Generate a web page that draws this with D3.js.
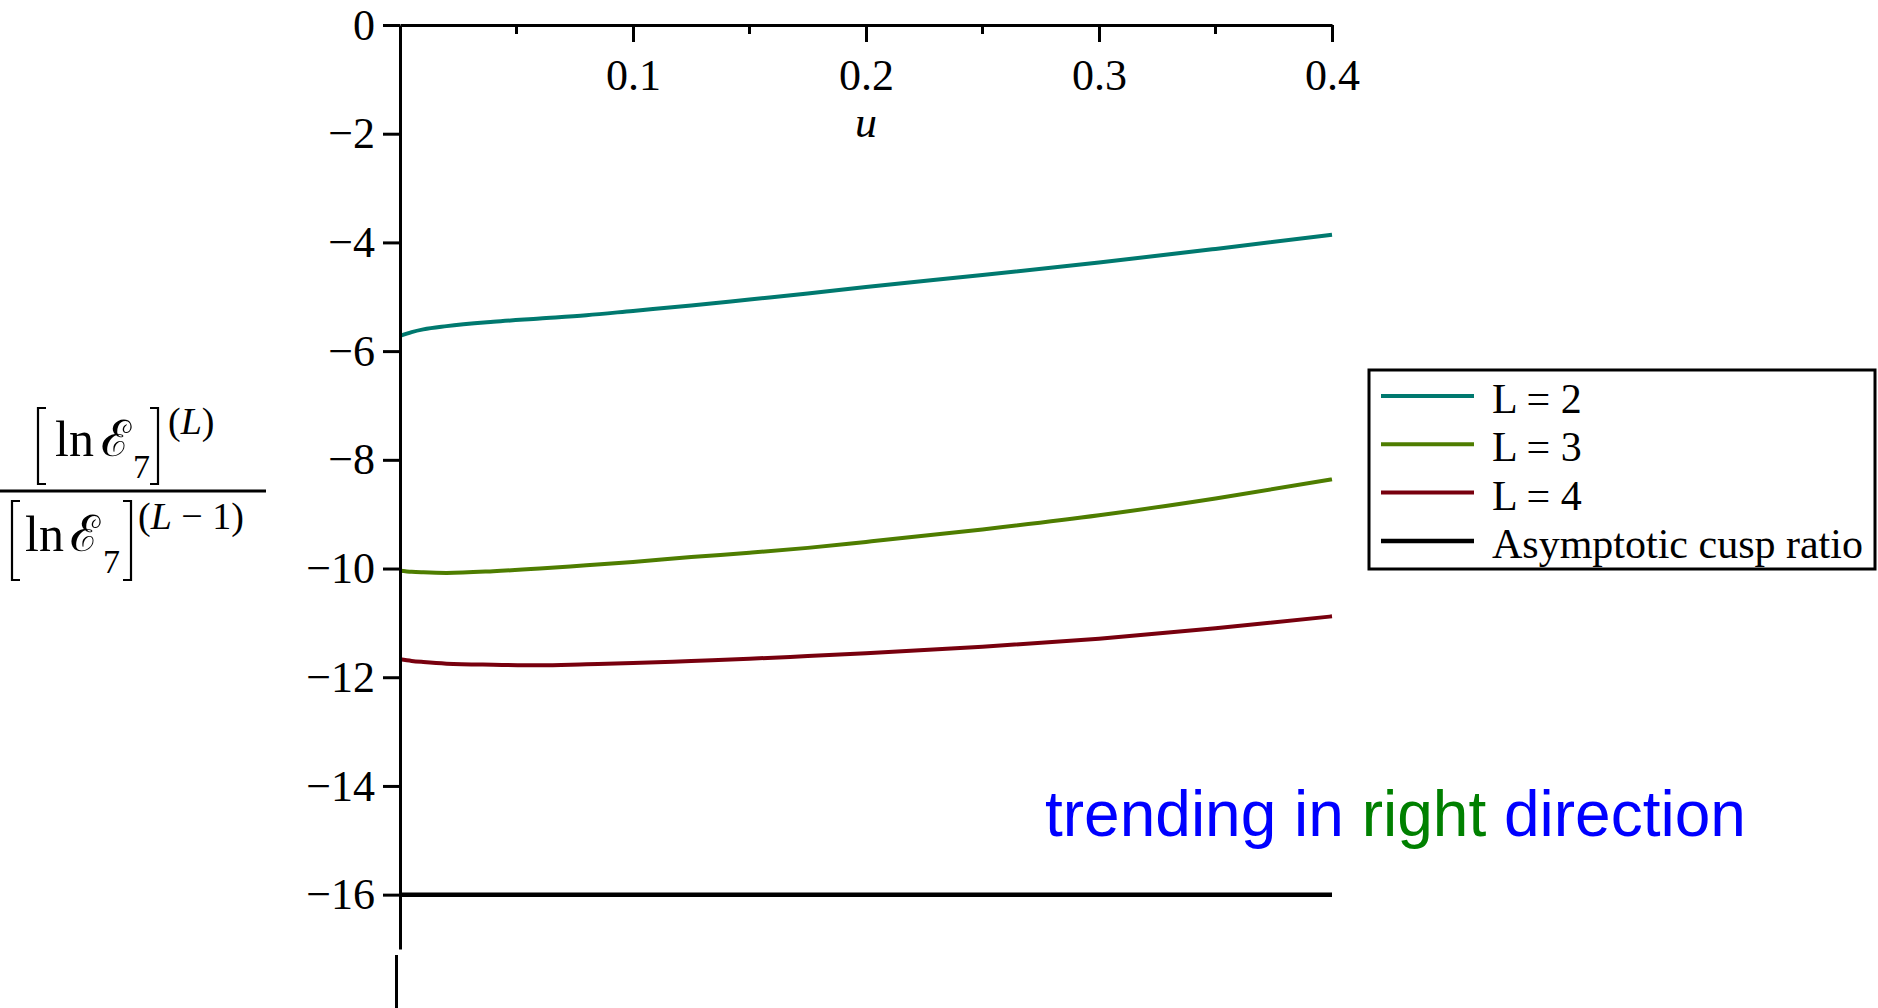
<!DOCTYPE html>
<html>
<head>
<meta charset="utf-8">
<script src="https://cdn.jsdelivr.net/npm/d3@7"></script>
<style>
  body { margin: 0; background: #fff; }
  svg { display: block; }
  .serif { font-family: "Liberation Serif", "Times New Roman", serif; }
</style>
</head>
<body>
<div id="chart"></div>
<script>
// values
var uGrid = [0, 0.005, 0.01, 0.02, 0.04, 0.06, 0.08, 0.1, 0.125, 0.15, 0.175, 0.2, 0.25, 0.3, 0.35, 0.4];
var ratioL2 = [-5.72, -5.65, -5.60, -5.54, -5.46, -5.40, -5.34, -5.26, -5.16, -5.05, -4.94, -4.82, -4.60, -4.37, -4.12, -3.86];
var ratioL3 = [-10.04, -10.06, -10.07, -10.08, -10.05, -10.00, -9.94, -9.88, -9.79, -9.71, -9.62, -9.51, -9.28, -9.02, -8.71, -8.36];
var ratioL4 = [-11.67, -11.70, -11.72, -11.75, -11.77, -11.78, -11.76, -11.74, -11.70, -11.66, -11.61, -11.56, -11.44, -11.29, -11.10, -10.88];
var cuspU = [0, 0.4];
var cuspRatio = [-16, -16];

var seriesNames = ["L = 2", "L = 3", "L = 4", "Asymptotic cusp ratio"];
var seriesColors = ["#00796f", "#4e7d00", "#78000e", "#000000"];

var xMajorTicks = [0.1, 0.2, 0.3, 0.4];
var xMinorTicks = [0.05, 0.15, 0.25, 0.35];
var yTicks = [0, -2, -4, -6, -8, -10, -12, -14, -16];

(function(){
    var W = 1878, H = 1008;

    var x = d3.scaleLinear().domain([0, 0.4]).range([400, 1332]);
    var y = d3.scaleLinear().domain([-17, 0]).range([949, 25]);

    var svg = d3.select("#chart").append("svg")
        .attr("width", W)
        .attr("height", H);

    var series = [
        {u: uGrid, v: ratioL2, w: 4},
        {u: uGrid, v: ratioL3, w: 4},
        {u: uGrid, v: ratioL4, w: 4},
        {u: cuspU, v: cuspRatio, w: 4.5}
    ];

    var line = d3.line()
        .x(function(d){ return x(d[0]); })
        .y(function(d){ return y(d[1]); })
        .curve(d3.curveMonotoneX);

    svg.append("g").selectAll("path")
        .data(series)
        .enter().append("path")
        .attr("fill", "none")
        .attr("stroke", function(d, i){ return seriesColors[i]; })
        .attr("stroke-width", function(d){ return d.w; })
        .attr("d", function(d){ return line(d.u.map(function(u, j){ return [u, d.v[j]]; })); });

    // y axis
    var yAxis = d3.axisLeft(y)
        .tickValues(yTicks)
        .tickSize(17)
        .tickSizeOuter(0)
        .tickPadding(8)
        .tickFormat(function(d){ return d === 0 ? "0" : "\u2212" + Math.abs(d); });

    var gy = svg.append("g")
        .attr("class", "serif")
        .attr("transform", "translate(" + x(0) + ",0)")
        .call(yAxis);
    gy.select(".domain").attr("stroke-width", 3);
    gy.selectAll(".tick line").attr("stroke-width", 3);
    gy.selectAll(".tick text")
        .attr("font-size", 44)
        .attr("font-family", "Liberation Serif, serif")
        .attr("fill", "#000")
        .attr("dy", "0.32em");

    // x axis sits at y = 0, ticks pointing down
    var xAxis = d3.axisBottom(x)
        .tickValues(xMajorTicks)
        .tickSize(17)
        .tickSizeOuter(0)
        .tickFormat(d3.format(".1f"));

    var gx = svg.append("g")
        .attr("transform", "translate(0," + y(0) + ")")
        .call(xAxis);
    gx.select(".domain").attr("stroke-width", 3);
    gx.selectAll(".tick line").attr("stroke-width", 3);
    gx.selectAll(".tick text")
        .attr("font-size", 44)
        .attr("font-family", "Liberation Serif, serif")
        .attr("fill", "#000")
        .attr("y", 65)
        .attr("dy", 0);

    gx.selectAll(".minor")
        .data(xMinorTicks)
        .enter().append("line")
        .attr("class", "minor")
        .attr("x1", function(d){ return x(d); })
        .attr("x2", function(d){ return x(d); })
        .attr("y1", 0)
        .attr("y2", 9)
        .attr("stroke", "#000")
        .attr("stroke-width", 3);

    // stray piece of the axis under the plot
    svg.append("line")
        .attr("x1", x(0) - 3.5).attr("x2", x(0) - 3.5)
        .attr("y1", 955).attr("y2", H)
        .attr("stroke", "#000").attr("stroke-width", 3);

    svg.append("text")
        .attr("x", x(0.2))
        .attr("y", 137)
        .attr("text-anchor", "middle")
        .attr("font-family", "Liberation Serif, serif")
        .attr("font-style", "italic")
        .attr("font-size", 44)
        .text("u");

    // y title: fraction
    var t = svg.append("g").attr("font-family", "Liberation Serif, serif").attr("fill", "#000");

    function bracket(x0, y0, y1, open){
        var w = 8;
        var p = open
            ? "M" + (x0 + w) + "," + y0 + "H" + x0 + "V" + y1 + "H" + (x0 + w)
            : "M" + (x0 - w) + "," + y0 + "H" + x0 + "V" + y1 + "H" + (x0 - w);
        t.append("path").attr("d", p).attr("fill", "none").attr("stroke", "#000").attr("stroke-width", 2.2);
    }

    function part(xs, base, sup){
        t.append("text").attr("x", xs.ln).attr("y", base).attr("font-size", 50).text("ln");
        t.append("text").attr("x", xs.E).attr("y", base).attr("font-size", 50)
            .attr("font-family", "DejaVu Serif, serif").text("\u2130");
        t.append("text").attr("x", xs.sub).attr("y", base + 22).attr("font-size", 34).text("7");
        var s = t.append("text").attr("x", xs.sup).attr("y", base - 22).attr("font-size", 38);
        s.append("tspan").text("(");
        s.append("tspan").attr("font-style", "italic").text("L");
        s.append("tspan").text(sup);
    }

    bracket(38, 408, 484, true);
    bracket(158, 408, 484, false);
    part({ln: 55, E: 101, sub: 133, sup: 168}, 456, ")");

    t.append("line")
        .attr("x1", 0).attr("x2", 266)
        .attr("y1", 491).attr("y2", 491)
        .attr("stroke", "#000").attr("stroke-width", 3);

    bracket(12, 501, 580, true);
    bracket(131, 501, 580, false);
    part({ln: 25, E: 70, sub: 103, sup: 138}, 551, " \u2212 1)");

    // legend
    var lg = svg.append("g").attr("transform", "translate(1369,370)");
    lg.append("rect")
        .attr("width", 506).attr("height", 199)
        .attr("fill", "#fff").attr("stroke", "#000").attr("stroke-width", 3);
    var item = lg.selectAll(".item")
        .data(seriesNames)
        .enter().append("g")
        .attr("class", "item")
        .attr("transform", function(d, i){ return "translate(0," + (26 + i * 48.3) + ")"; });
    item.append("line")
        .attr("x1", 12).attr("x2", 105)
        .attr("stroke", function(d, i){ return seriesColors[i]; })
        .attr("stroke-width", function(d, i){ return i === 3 ? 4.5 : 4; });
    item.append("text")
        .attr("x", 123).attr("y", 17)
        .attr("font-family", "Liberation Serif, serif")
        .attr("font-size", 42)
        .text(function(d){ return d; });

    // annotation
    var note = svg.append("text")
        .attr("x", 1045).attr("y", 836)
        .attr("font-family", "Liberation Sans, Arial, sans-serif")
        .attr("font-size", 64)
        .attr("fill", "#0000ff");
    note.append("tspan").text("trending in ");
    note.append("tspan").attr("fill", "#008000").text("right");
    note.append("tspan").text(" direction");
}());
</script>
</body>
</html>
